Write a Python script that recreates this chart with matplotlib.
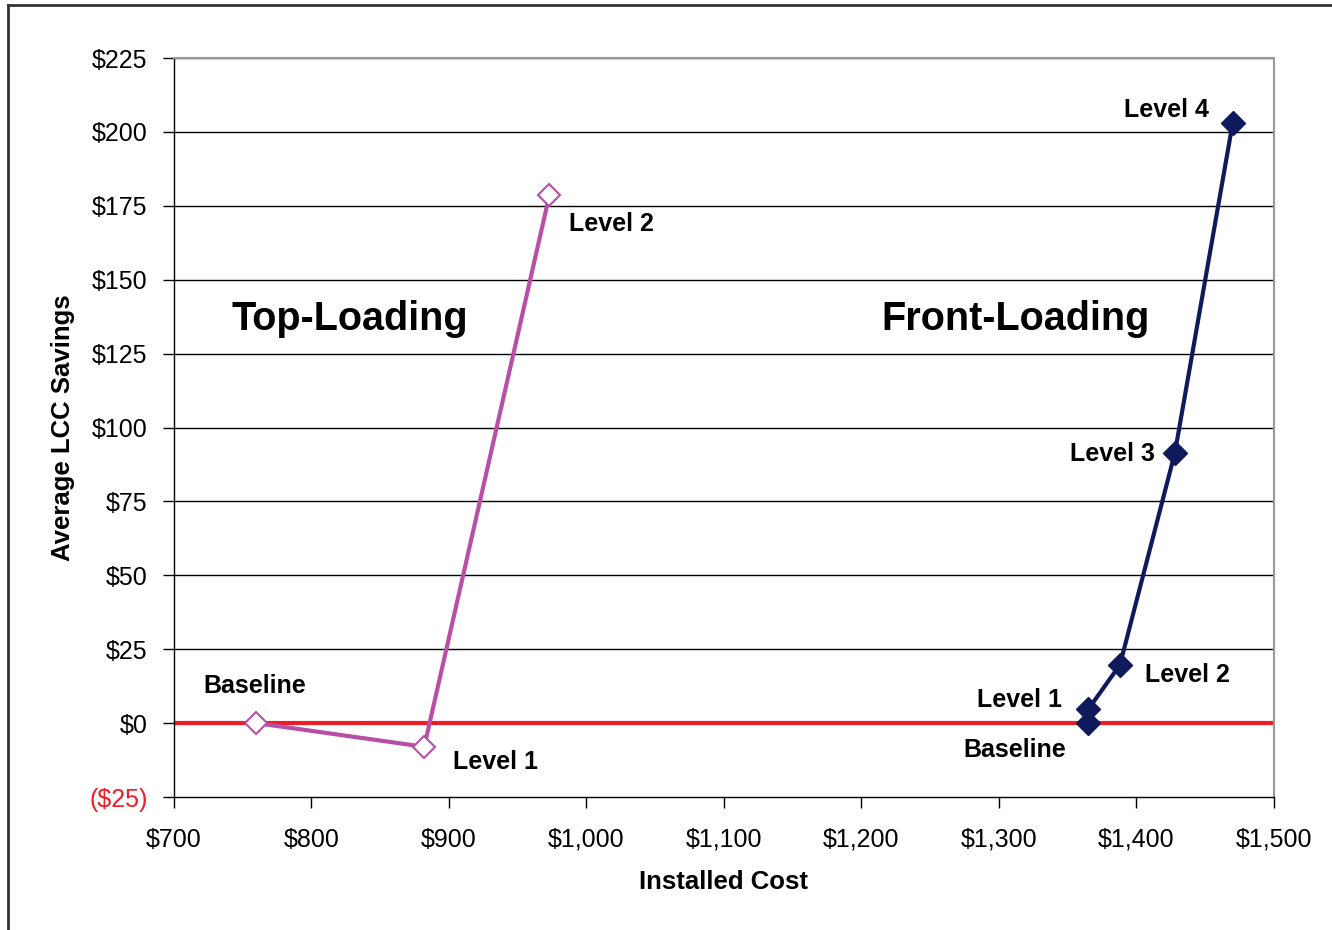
import matplotlib
matplotlib.use("Agg")
from matplotlib import pyplot as plt
from matplotlib.lines import Line2D
from matplotlib.ticker import FuncFormatter

plt.rcParams['font.family'] = ['Liberation Sans', 'DejaVu Sans']

# Top-loading washers
top_cost = [760, 882, 973]
top_savings = [0, -8, 178.5]
top_labels = ["Baseline", "Level 1", "Level 2"]

# Front-loading washers
front_cost = [1365, 1365, 1388, 1428, 1470]
front_savings = [0, 4.7, 19.7, 91.5, 203]
front_labels = ["Baseline", "Level 1", "Level 2", "Level 3", "Level 4"]

x_ticks = list(range(700, 1501, 100))
y_ticks = list(range(-25, 226, 25))

PINK = "#b84fa6"
NAVY = "#0e1a5c"

fig = plt.figure(figsize=(13.32, 9.30), dpi=100)
ax = fig.add_axes([0.1306, 0.1430, 0.8258, 0.7946])

# outer frame (only left and top edges show)
fig.add_artist(Line2D([8 / 1332, 8 / 1332], [0, 1 - 5 / 930], transform=fig.transFigure,
                      color="#333333", lw=2))
fig.add_artist(Line2D([8 / 1332, 1], [1 - 5 / 930, 1 - 5 / 930], transform=fig.transFigure,
                      color="#333333", lw=2))

for y in y_ticks[1:]:
    ax.axhline(y, color="black", lw=1, zorder=1)
ax.axhline(0, color="#ee1c25", lw=3, zorder=2)

ax.plot(top_cost, top_savings, color=PINK, lw=3, marker="D", markersize=11.5,
        markerfacecolor="white", markeredgecolor=PINK, markeredgewidth=1.5, zorder=3)
ax.plot(front_cost, front_savings, color=NAVY, lw=3, marker="D", markersize=12,
        markerfacecolor=NAVY, markeredgecolor=NAVY, zorder=3)

top_offsets = [(-2, 37, "center"), (29, -15, "left"), (20, -29, "left")]
front_offsets = [(-22, -27, "right"), (-26, 9, "right"), (25, -10, "left"),
                 (-20, -1, "right"), (-24, 13, "right")]

for x, y, lab, (dx, dy, ha) in zip(top_cost, top_savings, top_labels, top_offsets):
    ax.annotate(lab, (x, y), xytext=(dx, dy), textcoords="offset pixels",
                ha=ha, va="center", fontsize=18, fontweight="bold")
for x, y, lab, (dx, dy, ha) in zip(front_cost, front_savings, front_labels, front_offsets):
    ax.annotate(lab, (x, y), xytext=(dx, dy), textcoords="offset pixels",
                ha=ha, va="center", fontsize=18, fontweight="bold")

ax.text(0.16, 0.647, "Top-Loading", transform=ax.transAxes, ha="center", va="center",
        fontsize=28.5, fontweight="bold")
ax.text(0.765, 0.647, "Front-Loading", transform=ax.transAxes, ha="center", va="center",
        fontsize=28.5, fontweight="bold")

ax.set_xlim(700, 1500)
ax.set_ylim(-25, 225)
ax.set_xticks(x_ticks)
ax.set_yticks(y_ticks)


def money(v, pos):
    if v < 0:
        return "(${:,.0f})".format(-v)
    return "${:,.0f}".format(v)


ax.xaxis.set_major_formatter(FuncFormatter(money))
ax.yaxis.set_major_formatter(FuncFormatter(money))
ax.tick_params(axis="both", direction="out", length=8, width=1, labelsize=18)
ax.tick_params(axis="x", pad=14)
ax.tick_params(axis="y", pad=11)
ax.get_yticklabels()[0].set_color("#ee1c25")

for s in ("top", "right"):
    ax.spines[s].set_color("#999999")
    ax.spines[s].set_linewidth(1.5)
for s in ("left", "bottom"):
    ax.spines[s].set_color("black")
    ax.spines[s].set_linewidth(1)

ax.set_xlabel("Installed Cost", fontsize=18.5, fontweight="bold", labelpad=13)
ax.set_ylabel("Average LCC Savings", fontsize=18.5, fontweight="bold", labelpad=10)

fig.savefig("out.png", dpi=100)
